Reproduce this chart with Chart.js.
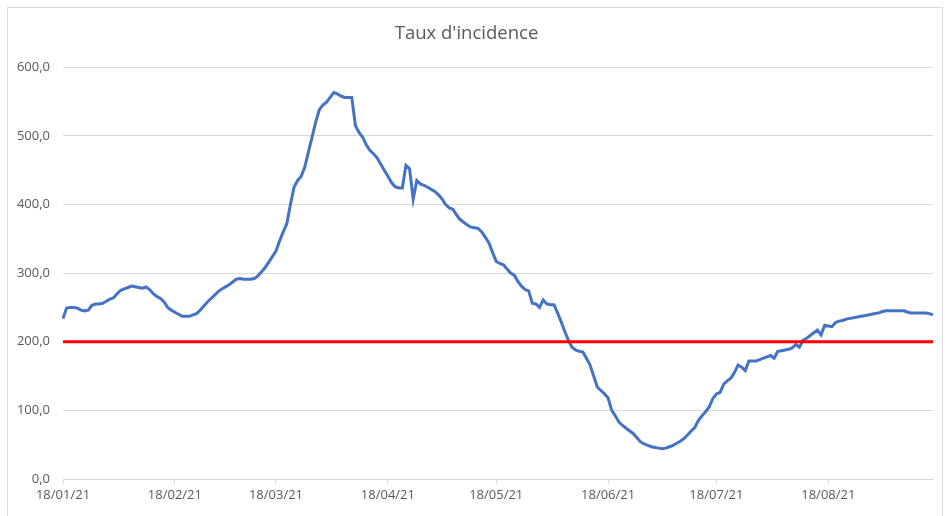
<!DOCTYPE html>
<html>
<head>
<meta charset="utf-8">
<script src="https://cdn.jsdelivr.net/npm/chart.js@4/dist/chart.umd.min.js"></script>
<style>
  html, body { margin:0; padding:0; background:#ffffff; }
  #cadre { position:absolute; left:7px; top:7px; width:936px; height:520px; border:1px solid #d9d9d9; box-sizing:border-box; }
  #graph { position:absolute; left:0; top:0; }
</style>
</head>
<body>
<div id="cadre"></div>
<canvas id="graph" width="945" height="516"></canvas>
<script>
// ---- Données ----
const titre = "Taux d'incidence";
const dateDebut = [2021, 0, 18];           // 18/01/21
const seuil = 200;                          // ligne rouge
const etiquettesAxe = ['18/01/21','18/02/21','18/03/21','18/04/21','18/05/21','18/06/21','18/07/21','18/08/21'];
const graduationsY = [0, 100, 200, 300, 400, 500, 600];

// taux d'incidence quotidien (18/01/21 -> 16/09/21)
const tauxIncidence = [
  234,249,250,250,249,246,245,246,253,255,
  255,256,259,262,264,270,275,277,279,281,
  280,279,278,280,276,270,266,263,258,250,
  246,243,240,237,237,237,239,241,246,252,
  258,263,268,273,277,280,283,287,291,292,
  291,291,291,292,296,302,308,316,324,332,
  347,360,372,400,425,435,441,455,477,498,
  520,538,545,549,556,563,561,558,556,556,
  556,515,505,498,487,479,474,468,459,450,
  441,432,426,424,424,457,452,408,435,430,
  428,425,422,419,414,408,400,395,393,385,
  378,374,370,367,366,365,360,352,344,330,
  317,314,312,306,300,297,288,281,276,274,
  256,255,250,261,255,254,254,242,229,215,
  202,192,188,186,185,176,166,150,134,129,
  124,118,100,92,83,78,74,70,66,60,
  54,51,49,47,46,45,44,45,47,49,
  52,55,59,64,70,75,85,92,98,105,
  117,124,126,138,143,147,155,166,163,158,
  172,172,172,174,176,178,180,176,186,187,
  188,189,191,196,192,202,205,209,213,217,
  210,224,223,222,228,230,231,233,234,235,
  236,237,238,239,240,241,242,244,245,245,
  245,245,245,245,243,242,242,242,242,242,
  241,239
];

// ---- Catégories (dates) ----
function fmt(d){
  const p = n => String(n).padStart(2,'0');
  return p(d.getDate()) + '/' + p(d.getMonth()+1) + '/' + p(d.getFullYear() % 100);
}
const dates = tauxIncidence.map((_, i) => fmt(new Date(dateDebut[0], dateDebut[1], dateDebut[2] + i)));
const ligneSeuil = dates.map(() => seuil);

const police = "'Open Sans', 'Liberation Sans', sans-serif";
const gris = '#595959';
const grille = '#d9d9d9';

new Chart(document.getElementById('graph'), {
  type: 'line',
  data: {
    labels: dates,
    datasets: [
      { label: 'Seuil', data: ligneSeuil, borderColor: '#ff0000', borderWidth: 3, pointRadius: 0, order: 0 },
      { label: titre, data: tauxIncidence, borderColor: '#4472c4', borderWidth: 3, pointRadius: 0, tension: 0, order: 1 }
    ]
  },
  options: {
    responsive: false,
    animation: false,
    layout: { padding: { left: 0, right: 12, top: 0, bottom: 0 } },
    plugins: {
      legend: { display: false },
      tooltip: { enabled: false },
      title: {
        display: true, text: titre, color: gris,
        font: { family: police, size: 18.5, weight: 'normal' },
        padding: { top: 23, bottom: 22 }
      }
    },
    scales: {
      x: {
        type: 'category',
        offset: false,
        afterBuildTicks: (s) => { s.ticks = s.ticks.filter(t => etiquettesAxe.includes(dates[t.value])); },
        afterFit: (s) => { s.height = 37; },
        grid: { drawOnChartArea: false, drawTicks: true, tickLength: 5, color: grille },
        border: { display: true, color: grille },
        ticks: {
          autoSkip: false, maxRotation: 0, minRotation: 0, color: gris, padding: 3,
          font: { family: police, size: 13 },
          callback: function(v){ return this.getLabelForValue(v); }
        }
      },
      y: {
        min: graduationsY[0], max: graduationsY[graduationsY.length-1],
        afterFit: (s) => { s.width = 63; },
        grid: { color: grille, drawTicks: false },
        border: { display: false },
        ticks: {
          stepSize: 100, color: gris, padding: 13,
          font: { family: police, size: 13 },
          callback: (v) => v.toFixed(1).replace('.', ',')
        }
      }
    }
  }
});
</script>
</body>
</html>
